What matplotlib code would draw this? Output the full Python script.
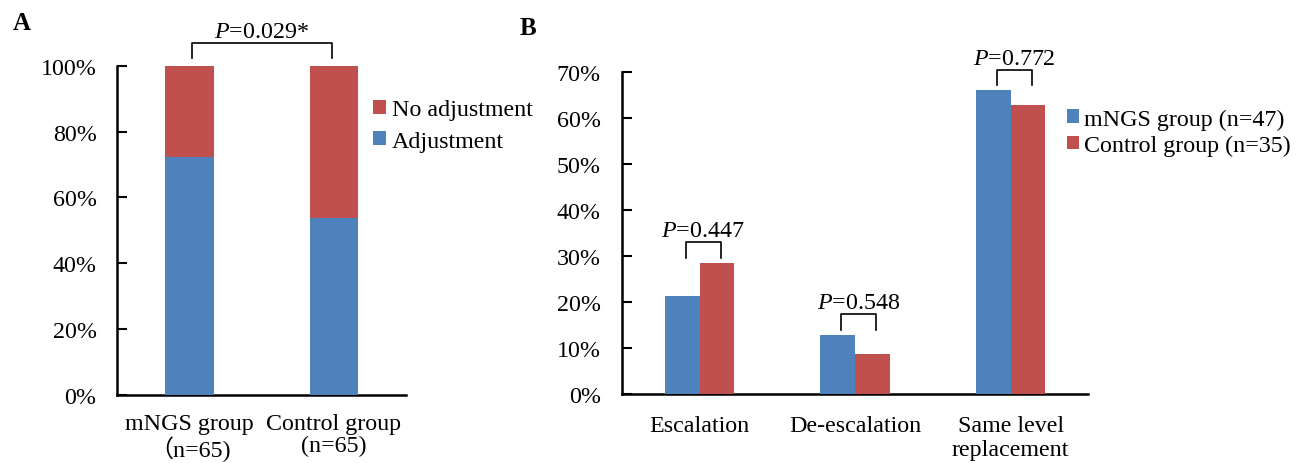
import numpy as np
import matplotlib
matplotlib.use('Agg')
import matplotlib.pyplot as plt

plt.rcParams['font.family'] = ['Liberation Serif', 'Noto Sans CJK SC', 'DejaVu Sans']
plt.rcParams['mathtext.fontset'] = 'custom'
plt.rcParams['mathtext.rm'] = 'Liberation Serif'
plt.rcParams['mathtext.it'] = 'Liberation Serif:italic'

BLUE = '#4F81BD'
RED = '#C0504D'
FS = 17.3

# panel A data
groups_a = ['mNGS group\n\uff08n=65)', 'Control group\n(n=65)']
adjustment = [72.3, 53.8]
no_adjustment = [27.7, 46.2]
p_a = '0.029*'

# panel B data
categories_b = ['Escalation', 'De-escalation', 'Same level\nreplacement']
mngs_b = [21.3, 12.9, 66.1]
control_b = [28.6, 8.6, 62.9]
p_b = ['0.447', '0.548', '0.772']


def style_axes(ax, xpad, lsp):
  for s in ['top', 'right']:
    ax.spines[s].set_visible(False)
  for s in ['left', 'bottom']:
    ax.spines[s].set_linewidth(1.8)
  ax.tick_params(axis='y', direction='in', length=7, width=1.5, labelsize=FS, pad=15)
  ax.tick_params(axis='x', length=0, labelsize=FS, pad=xpad)
  ax.yaxis.set_major_formatter(matplotlib.ticker.FuncFormatter(lambda v, p: '{:.0f}%'.format(v)))
  for lab in ax.get_xticklabels():
    lab.set_linespacing(lsp)


def bracket(ax, x1, x2, y, h, label, toff):
  ax.plot([x1, x1, x2, x2], [y, y + h, y + h, y], color='black', lw=1.2, clip_on=False)
  ax.text((x1 + x2) / 2, y + h + toff, r'$P$=' + label, ha='center', va='center', fontsize=FS)


fig = plt.figure(figsize=(12.98, 4.64), dpi=100)

# ---- panel A
ax1 = fig.add_axes([0.0904, 0.1466, 0.2224, 0.7097])
xa = np.arange(len(groups_a))
ax1.bar(xa, adjustment, 0.333, color=BLUE, label='Adjustment', zorder=3)
ax1.bar(xa, no_adjustment, 0.333, bottom=adjustment, color=RED, label='No adjustment', zorder=3)
ax1.set_ylim(0, 100)
ax1.set_xlim(-0.5, 1.5)
ax1.set_yticks(np.arange(0, 101, 20))
ax1.set_xticks(xa)
ax1.set_xticklabels(groups_a)
style_axes(ax1, 13, 1.05)
bracket(ax1, xa[0] + 0.015, xa[1] - 0.014, 102.3, 4.6, p_a, 3.4)
handles, labels = ax1.get_legend_handles_labels()
ax1.legend(handles[::-1], labels[::-1], loc='center left', bbox_to_anchor=(0.2874, 0.7274),
           bbox_transform=fig.transFigure, frameon=False, borderpad=0, borderaxespad=0,
           fontsize=FS, handlelength=0.55, handleheight=0.55, handletextpad=0.22, labelspacing=0.42)
fig.text(0.010, 0.950, 'A', fontsize=18, fontweight='bold', va='center')

# ---- panel B
ax2 = fig.add_axes([0.479, 0.1487, 0.3595, 0.6933])
xb = np.arange(len(categories_b))
w = 0.224
ax2.bar(xb - w / 2, mngs_b, w, color=BLUE, label='mNGS group (n=47)', zorder=3)
ax2.bar(xb + w / 2, control_b, w, color=RED, label='Control group (n=35)', zorder=3)
ax2.set_ylim(0, 70)
ax2.set_xlim(-0.5, 2.5)
ax2.set_yticks(np.arange(0, 71, 10))
ax2.set_xticks(xb)
ax2.set_xticklabels(categories_b)
style_axes(ax2, 15, 1.2)
for i in range(len(categories_b)):
  top = max(mngs_b[i], control_b[i])
  bracket(ax2, xb[i] - w / 2 + 0.022, xb[i] + w / 2 + 0.025, top + 1.1, 3.4, p_b[i], 2.5)
ax2.legend(loc='center left', bbox_to_anchor=(0.8218, 0.7130), bbox_transform=fig.transFigure,
           frameon=False, borderpad=0, borderaxespad=0,
           fontsize=FS, handlelength=0.51, handleheight=0.51, handletextpad=0.22, labelspacing=0.22)
fig.text(0.400, 0.939, 'B', fontsize=18, fontweight='bold', va='center')

plt.savefig('out.png', dpi=100)
